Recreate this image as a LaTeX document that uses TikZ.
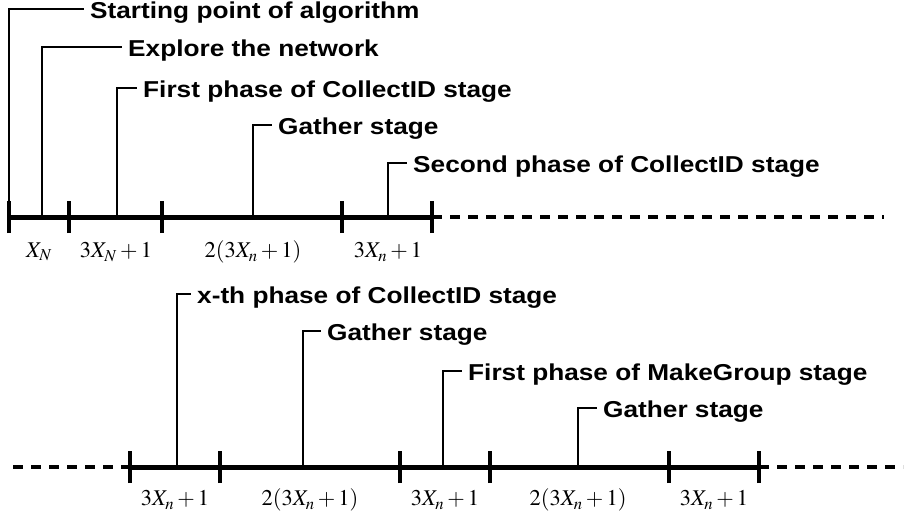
\documentclass[tikz,border=0pt]{standalone}
\usepackage{mathptmx}
\usepackage{fontspec}
\setmainfont{Liberation Serif}
\setsansfont{Liberation Sans}[FakeStretch=1.14]
\begin{document}
\begin{tikzpicture}[x=1pt,y=-1pt,
  axisline/.style={line width=5pt},
  dashline/.style={line width=4.5pt,dash pattern=on 10pt off 8pt},
  tickmark/.style={line width=4pt},
  leader/.style={line width=1.5pt},
  lab/.style={anchor=west,font=\sffamily\bfseries\fontsize{23}{25}\selectfont,
    text height=18pt,text depth=0pt,inner xsep=6pt,inner ysep=0pt},
  dur/.style={font=\fontsize{22.5}{26}\selectfont,inner sep=0pt}]
\useasboundingbox (0,0) rectangle (908,522);
% ---------- top axis ----------
\coordinate (a0) at (9,217);
\coordinate (a1) at (69,217);
\coordinate (a2) at (162,217);
\coordinate (a3) at (342,217);
\coordinate (a4) at (432,217);
\coordinate (aend) at (884,217);
\draw[axisline] (a0) -- (a4);
\draw[dashline] (a4) -- (aend);
\foreach \p in {a0,a1,a2,a3,a4}
  \draw[tickmark] ([yshift=-16pt]\p) -- ([yshift=16pt]\p);
% labels and leaders
\node[lab] (t1) at (84,9) {Starting point of algorithm};
\node[lab] (t2) at (122,47) {Explore the network};
\node[lab] (t3) at (137,88) {First phase of CollectID stage};
\node[lab] (t4) at (272,125) {Gather stage};
\node[lab] (t5) at (407,163) {Second phase of CollectID stage};
\coordinate (b1) at (9,217);
\coordinate (b2) at (42,217);
\coordinate (b3) at (117,217);
\coordinate (b4) at (253,217);
\coordinate (b5) at (388,217);
\draw[leader] (b1) |- (t1.west);
\draw[leader] (b2) |- (t2.west);
\draw[leader] (b3) |- (t3.west);
\draw[leader] (b4) |- (t4.west);
\draw[leader] (b5) |- (t5.west);
\node[dur] (d1) at (39,252) {$X_N$};
\node[dur] (d2) at (116,252) {$3X_N+1$};
\node[dur] (d3) at (253,252) {$2(3X_n+1)$};
\node[dur] (d4) at (388,252) {$3X_n+1$};
% ---------- bottom axis ----------
\coordinate (c0) at (13,467);
\coordinate (c1) at (130,467);
\coordinate (c2) at (220,467);
\coordinate (c3) at (400,467);
\coordinate (c4) at (490,467);
\coordinate (c5) at (669,467);
\coordinate (c6) at (759,467);
\coordinate (cend) at (903,467);
\draw[dashline] (c0) -- (c1);
\draw[axisline] (c1) -- (c6);
\draw[dashline] (c6) -- (cend);
\foreach \p in {c1,c2,c3,c4,c5,c6}
  \draw[tickmark] ([yshift=-16pt]\p) -- ([yshift=16pt]\p);
\node[lab] (u1) at (191,294) {x-th phase of CollectID stage};
\node[lab] (u2) at (321,331) {Gather stage};
\node[lab] (u3) at (462,371) {First phase of MakeGroup stage};
\node[lab] (u4) at (597,408) {Gather stage};
\coordinate (e1) at (177,467);
\coordinate (e2) at (303,467);
\coordinate (e3) at (443,467);
\coordinate (e4) at (578,467);
\draw[leader] (e1) |- (u1.west);
\draw[leader] (e2) |- (u2.west);
\draw[leader] (e3) |- (u3.west);
\draw[leader] (e4) |- (u4.west);
\node[dur] (f1) at (175,500) {$3X_n+1$};
\node[dur] (f2) at (310,500) {$2(3X_n+1)$};
\node[dur] (f3) at (445,500) {$3X_n+1$};
\node[dur] (f4) at (578,500) {$2(3X_n+1)$};
\node[dur] (f5) at (714,500) {$3X_n+1$};
\end{tikzpicture}
\end{document}
